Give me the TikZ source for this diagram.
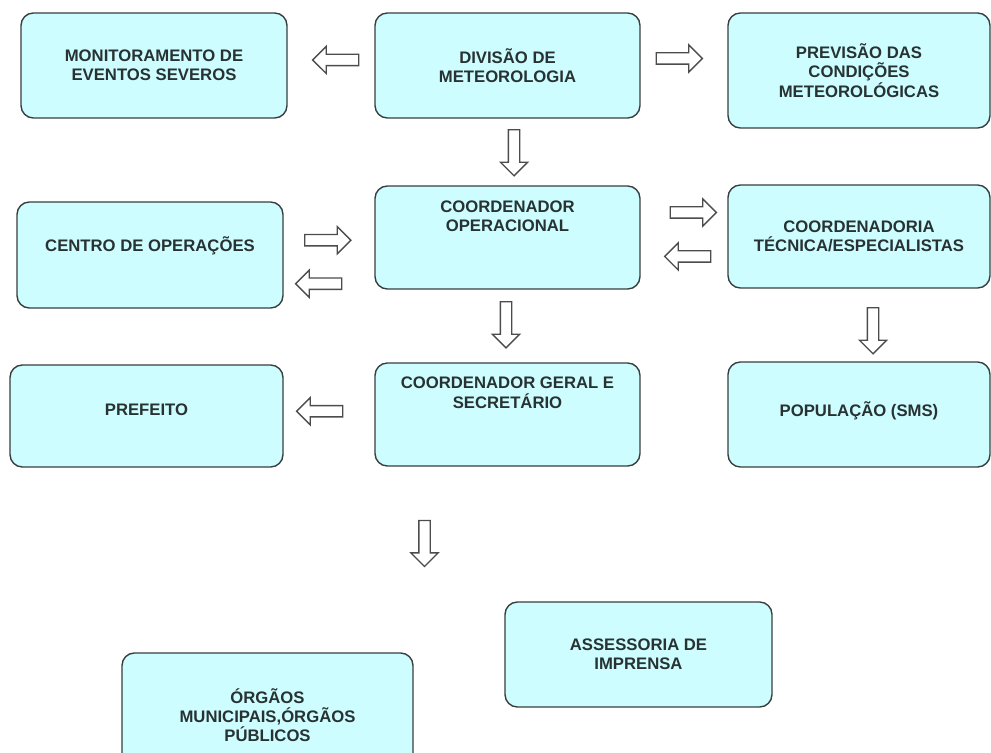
\documentclass[tikz,border=0pt]{standalone}
\usepackage{fontspec}
\setmainfont{Liberation Sans}
\usetikzlibrary{shapes.arrows, calc}
\definecolor{azulclaro}{RGB}{205,253,255}
\definecolor{borda}{RGB}{55,62,62}
\definecolor{texto}{RGB}{40,50,50}

\begin{document}
\begin{tikzpicture}[x=0.02cm, y=-0.02cm,
  caixa/.style={draw=borda, line width=0.8pt, fill=azulclaro, rounded corners=7pt,
    align=center, inner sep=0pt, text=texto, font=\bfseries\fontsize{9.5}{11}\selectfont},
  seta/.style={single arrow, draw=black!70, fill=white, line width=0.75pt,
    minimum height=0.92cm, inner xsep=0pt, inner ysep=0.1cm,
    single arrow head extend=0.16cm, single arrow tip angle=90},
  sobe/.style={text depth=#1}]
  \useasboundingbox (0,0) rectangle (991,753);

%caixas:
  \node[caixa, minimum width=5.32cm, minimum height=2.1cm] (mon) at (154,65.5) {MONITORAMENTO DE\\EVENTOS SEVEROS};
  \node[caixa, minimum width=5.3cm, minimum height=2.1cm] (div) at (507.5,65.5) {DIVISÃO DE\\METEOROLOGIA};
  \node[caixa, minimum width=5.24cm, minimum height=2.3cm] (prev) at (859,70.5) {PREVISÃO DAS\\CONDIÇÕES\\METEOROLÓGICAS};

  \node[caixa, sobe=12pt, minimum width=5.32cm, minimum height=2.12cm] (centro) at (150,255) {CENTRO DE OPERAÇÕES};
  \node[caixa, sobe=24pt, minimum width=5.3cm, minimum height=2.06cm] (coop) at (507.5,237.5) {COORDENADOR\\OPERACIONAL};
  \node[caixa, minimum width=5.24cm, minimum height=2.06cm] (tec) at (859,236.5) {COORDENADORIA\\TÉCNICA/ESPECIALISTAS};

  \node[caixa, sobe=7pt, minimum width=5.46cm, minimum height=2.04cm] (pref) at (146.5,416) {PREFEITO};
  \node[caixa, sobe=25pt, minimum width=5.3cm, minimum height=2.06cm] (cg) at (507.5,414.5) {COORDENADOR GERAL E\\SECRETÁRIO};
  \node[caixa, sobe=6.5pt, minimum width=5.24cm, minimum height=2.1cm] (pop) at (859,414.5) {POPULAÇÃO (SMS)};

  \node[caixa, minimum width=5.34cm, minimum height=2.1cm] (imp) at (638.5,654.5) {ASSESSORIA DE\\IMPRENSA};
  \node[caixa, minimum width=5.82cm, minimum height=2.48cm] (org) at (267.5,715) {ÓRGÃOS\\MUNICIPAIS,ÓRGÃOS\\PÚBLICOS};

%setas:
  \node[seta, rotate=180] (s1) at ($(mon.east)!.5!(div.west)+(7.5,-5.5)$) {};
  \node[seta] (s2) at ($(div.east)!.5!(prev.west)+(-7.5,-9.5)$) {};
  \node[seta, rotate=-90] (s3) at ($(div.south)!.5!(coop.north)+(6.5,-2)$) {};

  \node[seta] (s4) at ($(centro.east)!.5!(coop.west)+(-4,-6)$) {};
  \node[seta, rotate=180] (s5) at ($(centro.east)!.5!(coop.west)+(-7.5,37.5)$) {};
  \node[seta] (s6) at ($(coop.east)!.5!(tec.west)+(6.5,-24.5)$) {};
  \node[seta, rotate=180] (s7) at ($(coop.east)!.5!(tec.west)+(6.5,19.5)$) {};

  \node[seta, rotate=-90] (s8) at ($(tec.south)!.5!(pop.north)+(14,3)$) {};
  \node[seta, rotate=-90] (s9) at ($(coop.south)!.5!(cg.north)+(-1.5,-4)$) {};
  \node[seta, rotate=180] (s10) at ($(pref.east)!.5!(cg.west)+(-6.5,-4)$) {};
  \node[seta, rotate=-90] (s11) at ($(cg.south)+(-83,74)$) {};
\end{tikzpicture}
\end{document}
